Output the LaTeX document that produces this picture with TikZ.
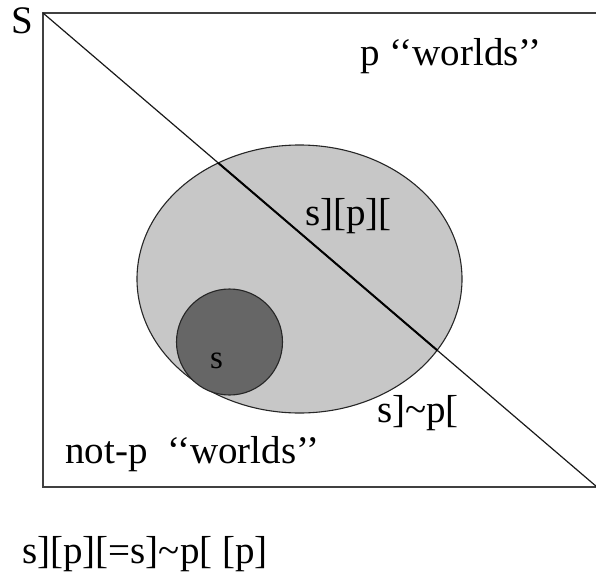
\documentclass[tikz,border=0pt]{standalone}
\usepackage{fontspec}
\setmainfont{Liberation Serif}
\usetikzlibrary{shapes.geometric}
\begin{document}
\begin{tikzpicture}[x=1pt,y=-1pt,
  lbl/.style={inner sep=0pt,font=\fontsize{39}{42}\selectfont},
  edge/.style={line width=1.3pt,draw=black!75}]
\useasboundingbox (0,0) rectangle (596,581);
\coordinate (tl) at (43,13);
\coordinate (br) at (597,487);
\draw[edge] (tl) rectangle (br);
\node[draw=black!85,line width=1.1pt,fill=black!22,ellipse,minimum width=325,minimum height=268,inner sep=0pt] (ell) at (299.5,279) {};
\node[draw=black!85,line width=1.1pt,fill=black!60,circle,minimum size=106,inner sep=0pt] (sc) at (229.5,342) {};
\draw[line width=1.2pt,black!90] (tl) -- (br);
\begin{scope}
  \clip (299.5,279) ellipse [x radius=162.5, y radius=134];
  \draw[line width=2pt] (tl) -- (br);
\end{scope}
\node[lbl,anchor=base] (S) at (22,33) {S};
\node[lbl,anchor=base] (pw) at (451,65) {p ‘‘worlds’’};
\node[lbl,anchor=base west] (spp) at (305,225) {s][p][};
\node[lbl,anchor=base,font=\fontsize{33}{36}\selectfont] (s) at (216.5,368) {s};
\node[lbl,anchor=base west] (snp) at (377,422) {s]\char`\~p[};
\node[lbl,anchor=base west] (npw) at (65,463) {not-p\ \ ‘‘worlds’’};
\node[lbl,anchor=base west] (eq) at (22,563) {s][p][=s]\char`\~p[ [p]};
\end{tikzpicture}
\end{document}
